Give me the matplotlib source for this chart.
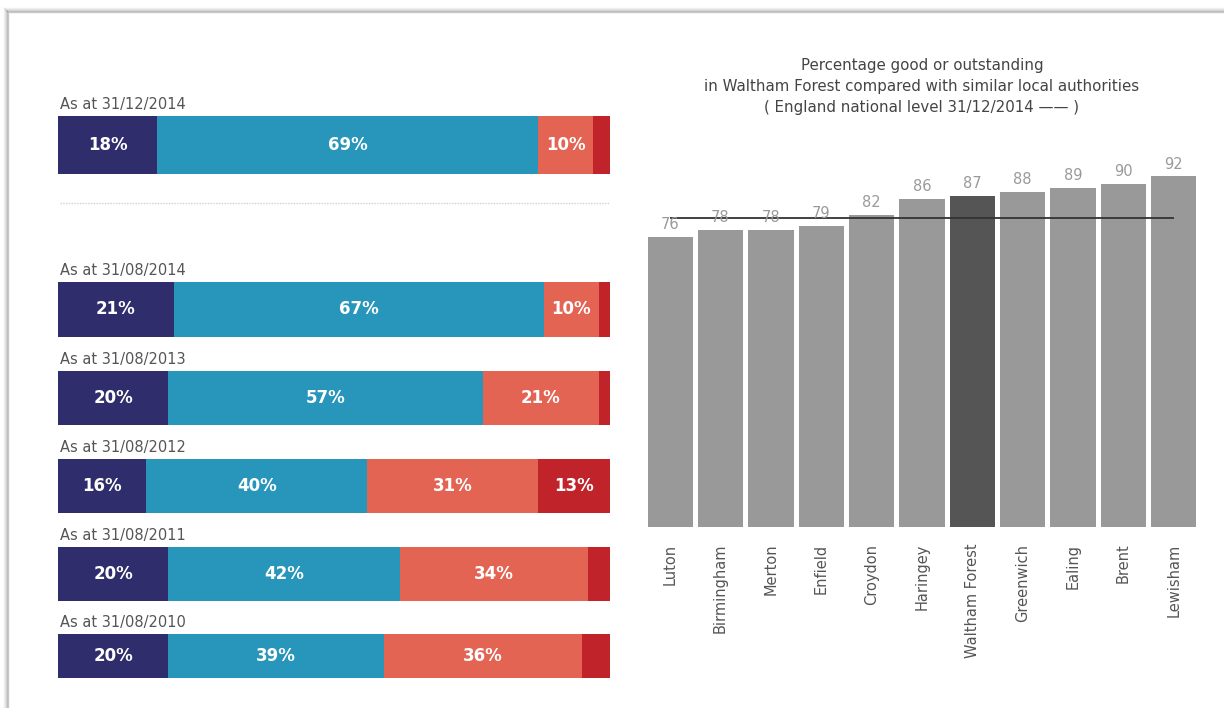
import matplotlib.pyplot as plt
from matplotlib.patches import Rectangle
from matplotlib.lines import Line2D

# left panel: judgement proportions per date
dates = ['As at 31/12/2014', 'As at 31/08/2014', 'As at 31/08/2013',
         'As at 31/08/2012', 'As at 31/08/2011', 'As at 31/08/2010']
outstanding = [18, 21, 20, 16, 20, 20]
good = [69, 67, 57, 40, 42, 39]
requires_improvement = [10, 10, 21, 31, 34, 36]
inadequate = [3, 2, 2, 13, 4, 5]

# right panel: % good or outstanding by authority
authorities = ['Luton', 'Birmingham', 'Merton', 'Enfield', 'Croydon', 'Haringey',
               'Waltham Forest', 'Greenwich', 'Ealing', 'Brent', 'Lewisham']
pct_good = [76, 78, 78, 79, 82, 86, 87, 88, 89, 90, 92]
national_level = 81

colors = ['#302d6c', '#2895ba', '#e46454', '#c1232b']

W, H = 1224, 708
fig = plt.figure(figsize=(W / 100, H / 100), dpi=100)
fig.patch.set_facecolor('white')

# page frame with a soft shadow
for i, a in enumerate([0.05, 0.08, 0.12, 0.2]):
    off = (4 - i) * 1.0
    fig.add_artist(Line2D([(8 - off) / W] * 2, [0, (H - 12 + off) / H],
                          color='black', alpha=a, lw=1))
    fig.add_artist(Line2D([(8 - off) / W, 1], [(H - 12 + off) / H] * 2,
                          color='black', alpha=a, lw=1))
fig.add_artist(Rectangle((8 / W, -0.1), 1.2, (H - 12) / H + 0.1,
                         transform=fig.transFigure, fill=False,
                         edgecolor='#d0d0d0', lw=1))

# ---- left stacked bars (y in pixel units) ----
ax = fig.add_axes([58 / W, 0, 552 / W, 1])
ax.set_xlim(0, 100)
ax.set_ylim(H, 0)
ax.axis('off')

bar_top = [116, 282, 371, 459, 547, 634]
bar_h = [58, 55, 54, 54, 54, 44]
series = [outstanding, good, requires_improvement, inadequate]

for r, label in enumerate(dates):
    yc = bar_top[r] + bar_h[r] / 2
    left = 0
    for k, vals in enumerate(series):
        v = vals[r]
        ax.barh(yc, v, left=left, height=bar_h[r], color=colors[k],
                edgecolor='none')
        if v >= 10:
            ax.text(left + v / 2, yc, f'{v}%', ha='center', va='center',
                    color='white', fontsize=12, fontweight='bold')
        left += v
    ax.text(0.4, bar_top[r] - 4, label, ha='left', va='bottom',
            color='#555555', fontsize=10.5)

ax.plot([0.4, 100], [203, 203], color='#d0d0d0', lw=1, ls=(0, (1, 1)))

# ---- right bar chart ----
ax2 = fig.add_axes([645 / W, (H - 527) / H, 554 / W, 381 / H])
x = range(len(authorities))
bar_cols = ['#555555' if a == 'Waltham Forest' else '#999999' for a in authorities]
ax2.bar(x, pct_good, width=0.9, color=bar_cols)
for i, v in zip(x, pct_good):
    ax2.text(i, v + 1.3, str(v), ha='center', va='bottom', color='#9a9a9a',
             fontsize=10.5)
ax2.hlines(national_level, 0, len(authorities) - 1, color='#333333', lw=1.3)
ax2.set_xlim(-0.5, len(authorities) - 0.5)
ax2.set_ylim(0, 100)
ax2.set_xticks(list(x))
ax2.set_xticklabels(authorities, rotation=90, color='#555555', fontsize=10.5,
                    va='top')
ax2.tick_params(axis='x', length=0, pad=12)
ax2.set_yticks([])
for s in ax2.spines.values():
    s.set_visible(False)

tx = 922 / W
fs = 10.8
title_lines = ['Percentage good or outstanding',
               'in Waltham Forest compared with similar local authorities',
               '( England national level 31/12/2014 \u2014\u2014 )']
for j, line in enumerate(title_lines):
    fig.text(tx, 1 - (70 + 21 * j) / H, line, ha='center', va='baseline',
             color='#444444', fontsize=fs)

fig.savefig('out.png', dpi=100)
